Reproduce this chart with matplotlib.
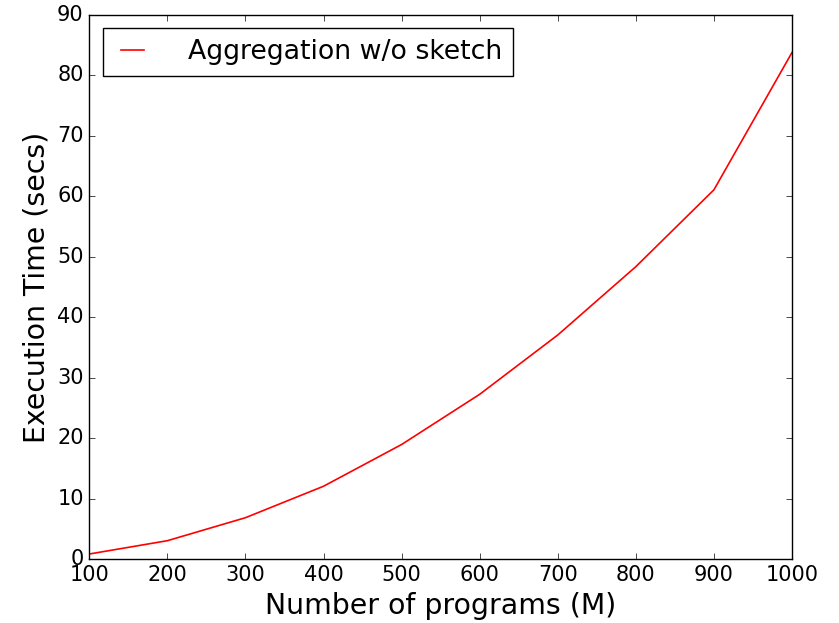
import matplotlib
matplotlib.use("Agg")
import matplotlib.pyplot as plt

programs = [100, 200, 300, 400, 500, 600, 700, 800, 900, 1000]
exec_time = [0.9, 3.1, 6.9, 12.1, 19.0, 27.3, 37.1, 48.4, 61.1, 83.8]
series_label = "Aggregation w/o sketch"

plt.style.use("classic")
fig = plt.figure(figsize=(8.39, 6.23), dpi=100)
fig.patch.set_facecolor("white")
ax = fig.add_axes([0.1064, 0.102, 0.8376, 0.874])
ax.plot(programs, exec_time, color="red", linewidth=1.2, label=series_label)
ax.set_xlim(100, 1000)
ax.set_ylim(0, 90)
ax.set_xticks(range(100, 1001, 100))
ax.set_yticks(range(0, 91, 10))
ax.tick_params(labelsize=15)
ax.set_xlabel("Number of programs (M)", fontsize=20.4)
ax.set_ylabel("Execution Time (secs)", fontsize=20.4)
leg = ax.legend(loc="upper left", fontsize=19.3, handlelength=1.45, handletextpad=1.33,
                borderpad=0.4, fancybox=False)
fig.savefig("out.png", dpi=100, facecolor="white")
